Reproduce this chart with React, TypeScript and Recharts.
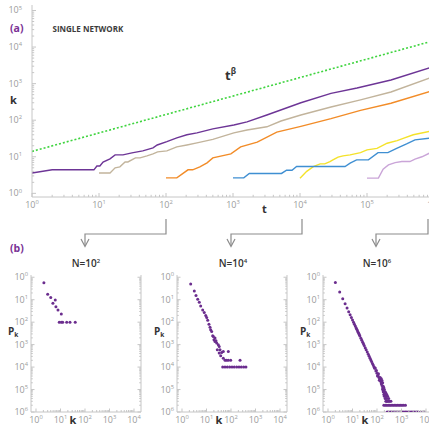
import React from "react";
import { LineChart, Line, XAxis, YAxis, ScatterChart, Scatter } from "recharts";

// (a) degree k(t) of nodes arriving at t = 1, 10, 10^2, 10^3, 10^4, 10^5
const NODE_1: number[][] = [
  [1, 3.6], [2, 4.4], [8.4, 4.4], [9.3, 5.6], [10.3, 5.6], [11.5, 7.2], [14.6, 8.8], [17.4, 11.3],
  [22.8, 11.3], [31, 12.8], [45, 14.5], [64, 17.5], [74, 21], [103, 26], [145, 33], [205, 40],
  [290, 45], [500, 58], [1030, 74], [1620, 90], [3200, 139], [10300, 300], [29000, 540],
  [71000, 760], [228000, 1260], [850000, 2690], [1000000, 2950],
];
const NODE_10: number[][] = [
  [10, 3.6], [14.6, 3.6], [17.4, 5], [20.5, 5.3], [24.5, 7.2], [27, 7.2], [35, 9.3], [41, 9.3],
  [52, 10.6], [64, 12], [75, 13.6], [103, 14.5], [145, 18.6], [205, 21], [290, 24], [500, 30],
  [1030, 45], [1620, 54], [3200, 66], [5200, 95], [10300, 139], [29000, 230], [80000, 360],
  [228000, 590], [850000, 1420], [1000000, 1550],
];
const NODE_100: number[][] = [
  [100, 2.65], [145, 2.65], [213, 4.4], [250, 4.4], [320, 5.3], [410, 6.8], [500, 9.3], [930, 12],
  [1300, 18.6], [2300, 25], [4500, 47], [10300, 68], [29000, 110], [80000, 185], [228000, 290],
  [850000, 600], [1000000, 660],
];
const NODE_1000: number[][] = [
  [1000, 2.65], [1450, 2.65], [1750, 3.5], [5300, 3.5], [6300, 4.3], [7600, 4.3], [8900, 5.4],
  [47000, 5.4], [56000, 6.7], [70000, 8.2], [105000, 8.2], [146000, 13], [205000, 13],
  [277000, 17], [390000, 22.5], [520000, 29], [850000, 32], [1000000, 36],
];
const NODE_10000: number[][] = [
  [10000, 2.6], [12600, 4.0], [15800, 5.4], [20000, 6.4], [23400, 6.4], [28000, 7.4], [31000, 8.2],
  [37000, 9.8], [44000, 10.6], [56000, 11.3], [80000, 13], [100000, 15.4], [141000, 17],
  [200000, 23.5], [282000, 27.6], [347000, 32], [490000, 40], [850000, 49], [1000000, 53],
];
const NODE_100000: number[][] = [
  [100000, 2.6], [148000, 2.6], [174000, 4.6], [209000, 6.0], [263000, 6.9], [331000, 7.4],
  [437000, 7.4], [520000, 8.6], [660000, 10], [850000, 12.5], [1000000, 14],
];
const T_BETA: number[][] = [[1, 14], [1000000, 15000]];

// (b) degree distributions p_k for N = 10^2, 10^4, 10^6
const PK_N2: number[][] = [
  [2.1, 0.575], [3.0, 0.175], [4.0, 0.124], [6.1, 0.098], [4.9, 0.07], [6.5, 0.049], [7.9, 0.035],
  [10.8, 0.023], [8.9, 0.01], [10.8, 0.01], [12.3, 0.01], [17.9, 0.01], [24.4, 0.01], [40, 0.01],
];
const PK_N4: number[][] = [
  [2.26, 0.5], [3.18, 0.246], [3.73, 0.152], [4.37, 0.105], [5.08, 0.0774], [5.8, 0.053], [7.0, 0.035],
  [8.1, 0.0267], [9.3, 0.0197], [10.2, 0.016], [11.2, 0.0123], [12.6, 0.0081], [13.9, 0.006],
  [14.8, 0.00455], [16.3, 0.0038], [17.9, 0.00246], [19, 0.0023], [22.2, 0.00195], [20.2, 0.00163],
  [24.4, 0.00148], [26, 0.00117], [22.2, 0.00137], [30.3, 0.00098], [33, 0.00083], [27.6, 0.00059],
  [35.6, 0.00059], [41.7, 0.00045], [33, 0.00042], [48.5, 0.00049], [38, 0.00032], [48.5, 0.00025],
  [77.6, 0.00049], [57, 0.0002], [66, 0.0002], [77.6, 0.0002], [97, 0.0002], [234, 0.0002],
  [45.8, 0.0001], [56.9, 0.0001], [70.6, 0.0001], [88.5, 0.0001], [110, 0.0001], [136, 0.0001],
  [171, 0.0001], [212, 0.0001], [263, 0.0001], [330, 0.0001], [408, 0.0001],
];
const PK_N6: number[][] = [
  [2, 0.58], [3, 0.221], [4, 0.111], [5, 0.0655], [6, 0.0425], [7, 0.0294], [8, 0.0214], [9, 0.0162],
  [10, 0.0126], [11, 0.01], [12, 0.00816], [13, 0.00675], [14, 0.00565], [15, 0.0048], [16, 0.00411],
  [17, 0.00356], [18, 0.0031], [19, 0.00273], [20, 0.00242], [22, 0.00193], [24, 0.00157],
  [26, 0.00129], [28, 0.00109], [30, 0.00092], [33, 0.000734], [36, 0.000597], [40, 0.000465],
  [44, 0.00037], [48, 0.000301], [52, 0.000249], [56, 0.000208], [60, 0.000177], [65, 0.000146],
  [70, 0.000123], [75, 0.000104], [80, 0.0000893], [90, 0.0000675], [100, 0.0000525], [110, 0.0000419],
  [120, 0.000034], [130, 0.0000281], [140, 0.0000236], [85, 0.00009], [95, 0.00007], [105, 0.00004],
  [115, 0.00005], [125, 0.000026], [135, 0.000034],
  [150, 0.000022], [150, 0.000018], [150, 0.00003], [160, 0.000015], [160, 0.000025], [170, 0.000012],
  [170, 0.00002], [170, 0.00001], [180, 0.00001], [180, 0.000014], [180, 0.000008], [190, 0.000008],
  [190, 0.000012], [190, 0.000006], [200, 0.000007], [200, 0.00001], [200, 0.000005], [215, 0.000006],
  [215, 0.000008], [215, 0.000004], [230, 0.000005], [230, 0.000007], [230, 0.000003], [250, 0.000004],
  [250, 0.000006], [250, 0.000003], [270, 0.000003], [270, 0.000005], [300, 0.000003], [300, 0.000004],
  [330, 0.000003], [370, 0.000003],
  [190, 0.000002], [220, 0.000002], [250, 0.000002], [290, 0.000002], [330, 0.000002], [380, 0.000002],
  [440, 0.000002], [510, 0.000002], [590, 0.000002], [680, 0.000002], [790, 0.000002], [910, 0.000002],
  [1050, 0.000002], [1220, 0.000002], [1450, 0.000002],
  [260, 0.000001], [300, 0.000001], [350, 0.000001], [400, 0.000001], [460, 0.000001], [530, 0.000001],
  [610, 0.000001], [700, 0.000001], [810, 0.000001], [930, 0.000001], [1080, 0.000001], [1250, 0.000001],
  [1440, 0.000001], [1660, 0.000001], [1920, 0.000001], [2220, 0.000001], [2560, 0.000001],
  [2950, 0.000001], [3400, 0.000001], [3950, 0.000001], [4400, 0.000001], [6000, 0.000001],
  [8300, 0.000001],
];

const FONT = "'Open Sans', 'DejaVu Sans', sans-serif";
const AXIS = "#c6c6c6";
const TICK_TXT = "#9b9b9b";
const DOT = "#6b2d8e";
const PURPLE = "#7a3295";

const LINES = [
  { rows: NODE_100000, color: "#caa5d8" },
  { rows: NODE_10000, color: "#f4e22a" },
  { rows: NODE_1000, color: "#3f8fd2" },
  { rows: NODE_100, color: "#f28c28" },
  { rows: NODE_10, color: "#c2b49c" },
  { rows: NODE_1, color: "#6d3596" },
];

function logTicks(lo: number, hi: number) {
  const out: number[] = [];
  for (let e = lo; e <= hi; e++) {
    for (let m = 1; m <= 9; m++) {
      if (e === hi && m > 1) break;
      out.push(m * Math.pow(10, e));
    }
  }
  return out;
}

type Side = "bottom" | "left" | "top" | "right";

function makeTick(side: Side, label: boolean, gap: number, major = 4, minor = 2.2) {
  return (props: any) => {
    const { x, y, payload } = props;
    const lg = Math.log10(payload.value);
    const e = Math.round(lg);
    const isMajor = Math.abs(lg - e) < 1e-6;
    const len = isMajor ? major : minor;
    let ln;
    if (side === "bottom") ln = <line x1={x} y1={y} x2={x} y2={y - len} />;
    else if (side === "top") ln = <line x1={x} y1={y} x2={x} y2={y + len} />;
    else if (side === "left") ln = <line x1={x} y1={y} x2={x + len} y2={y} />;
    else ln = <line x1={x} y1={y} x2={x - len} y2={y} />;
    let txt = null;
    if (label && isMajor) {
      const sup = (
        <tspan dy={-3.8} fontSize={5.8}>
          {Math.abs(e)}
        </tspan>
      );
      if (side === "bottom")
        txt = (
          <text x={x} y={y + gap} textAnchor="middle" fontSize={9} fill={TICK_TXT} fontFamily={FONT}>
            10{sup}
          </text>
        );
      else
        txt = (
          <text x={x - gap} y={y + 3} textAnchor="end" fontSize={9} fill={TICK_TXT} fontFamily={FONT}>
            10{sup}
          </text>
        );
    }
    return (
      <g>
        <g stroke={AXIS} strokeWidth={1}>{ln}</g>
        {txt}
      </g>
    );
  };
}

const T_DOMAIN = [1, 1e6];
const K_DOMAIN = [Math.pow(10, -0.1), Math.pow(10, 5.15)];
const PK_X = [Math.pow(10, -0.204), Math.pow(10, 4.286)];
const PK_Y = [1e-6, Math.pow(10, 0.1)];

const toTK = (rows: number[][]) => rows.map(([t, k]) => ({ t, k }));
const toKP = (rows: number[][]) => rows.map(([k, p]) => ({ k, p }));

const axisCommon = {
  type: "number" as const,
  scale: "log" as const,
  allowDataOverflow: true,
  interval: 0 as const,
  tickSize: 0,
  tickMargin: 0,
  tickLine: false,
  axisLine: { stroke: AXIS },
};

function GrowthPanel() {
  const xt = logTicks(0, 6);
  const yt = logTicks(0, 5);
  return (
    <LineChart width={440} height={215} margin={{ top: 5, right: 6, bottom: 0, left: 0 }}>
      <XAxis {...axisCommon} dataKey="t" domain={T_DOMAIN} ticks={xt} tick={makeTick("bottom", true, 11)} height={18} />
      <XAxis {...axisCommon} xAxisId="top" orientation="top" domain={T_DOMAIN} ticks={xt} tick={makeTick("top", false, 0)} height={0} />
      <YAxis {...axisCommon} dataKey="k" domain={K_DOMAIN} ticks={yt} tick={makeTick("left", true, 10)} width={32} />
      <Line data={toTK(T_BETA)} dataKey="k" stroke="#3fd43f" strokeWidth={1.6} strokeDasharray="2 2" dot={false} isAnimationActive={false} />
      {LINES.map((s, i) => (
        <Line key={i} data={toTK(s.rows)} dataKey="k" stroke={s.color} strokeWidth={1.4} dot={false} isAnimationActive={false} />
      ))}
    </LineChart>
  );
}

const dotShape = (p: any) => <circle cx={p.cx} cy={p.cy} r={1.5} fill={DOT} />;

function DistPanel({ rows, left }: { rows: number[][]; left: number }) {
  const xt = logTicks(0, 4);
  const yt = logTicks(-6, 0);
  return (
    <div style={{ position: "absolute", left: left - 31, top: 270 }}>
      <ScatterChart width={147} height={161} margin={{ top: 5, right: 0, bottom: 0, left: 0 }}>
        <XAxis {...axisCommon} dataKey="k" domain={PK_X} ticks={xt} tick={makeTick("bottom", true, 11, 3.5, 2)} height={19} />
        <XAxis {...axisCommon} xAxisId="top" orientation="top" domain={PK_X} ticks={xt} tick={makeTick("top", false, 0, 3.5, 2)} height={0} />
        <YAxis {...axisCommon} dataKey="p" domain={PK_Y} ticks={yt} tick={makeTick("left", true, 3, 3.5, 1.8)} width={31} />
        <YAxis {...axisCommon} yAxisId="r" orientation="right" domain={PK_Y} ticks={yt} tick={makeTick("right", false, 0, 3.5, 1.8)} width={6} />
        <Scatter data={toKP(rows)} shape={dotShape} isAnimationActive={false} />
      </ScatterChart>
    </div>
  );
}

const Sup = ({ children, dy = -5, size = 6.5 }: any) => (
  <tspan dy={dy} fontSize={size}>
    {children}
  </tspan>
);

function Overlay() {
  const lab = { fontFamily: FONT, fontWeight: 700, fill: "#333" };
  const arrow = { fill: "none", stroke: "#8c8c8c", strokeWidth: 1.2 };
  const panels = [31, 177, 323];
  const titles = [
    { x: 86, e: "2" },
    { x: 233, e: "4" },
    { x: 377, e: "6" },
  ];
  return (
    <svg width={429} height={431} style={{ position: "absolute", left: 0, top: 0, pointerEvents: "none" }}>
      <text x={10} y={32} fontSize={10.5} fontWeight={700} fill={PURPLE} fontFamily={FONT}>(a)</text>
      <text x={52.5} y={31.5} fontSize={8} {...lab} fill="#3c3c3c">SINGLE NETWORK</text>
      <text x={10} y={104} fontSize={11} {...lab}>k</text>
      <text x={225} y={80} fontSize={13} {...lab}>
        t<Sup dy={-6} size={8}>β</Sup>
      </text>
      <text x={262} y={213} fontSize={11} {...lab}>t</text>

      <polyline points="166,219 166,234 85,234 85,246" {...arrow} />
      <polyline points="81,239 85,246.5 89,239" {...arrow} />
      <polyline points="302,219 302,234 231,234 231,246" {...arrow} />
      <polyline points="227,239 231,246.5 235,239" {...arrow} />
      <polyline points="428,219 428,234 376,234 376,246" {...arrow} />
      <polyline points="372,239 376,246.5 380,239" {...arrow} />

      <text x={10} y={252} fontSize={10.5} fontWeight={700} fill={PURPLE} fontFamily={FONT}>(b)</text>
      {titles.map((t) => (
        <text key={t.x} x={t.x} y={267} textAnchor="middle" fontSize={10} fontFamily={FONT} fontWeight={600} fill="#333">
          N=10<Sup dy={-4} size={6}>{t.e}</Sup>
        </text>
      ))}
      {panels.map((l) => (
        <g key={l}>
          <text x={l - 23} y={335} fontSize={10} {...lab}>
            P<tspan dy={2} fontSize={6.5}>k</tspan>
          </text>
          <text x={l + 38.5} y={424} fontSize={11} {...lab}>k</text>
        </g>
      ))}
    </svg>
  );
}

export default function App() {
  return (
    <div style={{ position: "fixed", left: 0, top: 0, width: 429, height: 431, overflow: "hidden", background: "#fff" }}>
      <div style={{ position: "absolute", left: 0, top: 0 }}>
        <GrowthPanel />
      </div>
      <DistPanel rows={PK_N2} left={31} />
      <DistPanel rows={PK_N4} left={177} />
      <DistPanel rows={PK_N6} left={323} />
      <Overlay />
    </div>
  );
}
